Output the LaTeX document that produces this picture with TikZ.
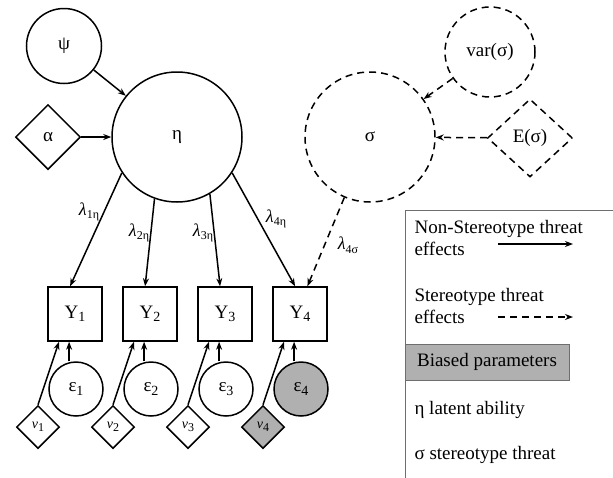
\documentclass[tikz,border=0pt]{standalone}
\usepackage{fontspec}
\setmainfont{Liberation Serif}
\usetikzlibrary{shapes.geometric,arrows.meta}
\definecolor{biais}{RGB}{176,176,176}
\definecolor{cadre}{RGB}{110,110,110}
\newcommand{\indice}[1]{\raisebox{-0.4ex}{\fontsize{14}{14}\selectfont #1}}
\newcommand{\petitind}[1]{\raisebox{-0.45ex}{\fontsize{12}{12}\selectfont #1}}

\begin{document}
\begin{tikzpicture}[x=1pt,y=-1pt,
    font=\fontsize{19}{22}\selectfont,
    trait/.style={line width=1.5pt},
    fleche/.style={trait,-{Stealth[length=8pt,width=6pt]}},
    tirets/.style={dash pattern=on 7pt off 5pt},
    rond/.style={trait,circle,draw,inner sep=0pt},
    losange/.style={trait,diamond,draw,inner sep=0pt},
    carre/.style={trait,rectangle,draw,minimum size=54pt,inner sep=0pt},
    lambda/.style={font=\fontsize{18}{18}\selectfont}]
    \useasboundingbox (0,0) rectangle (613,477);
    \clip (0,0) rectangle (613,477);

    % Variable latente et ses paramètres
    \node[rond,minimum size=130pt] (eta) at (177,137) {η};
    \node[rond,minimum size=75pt] (psi) at (64,46) {ψ};
    \node[losange,minimum size=65pt] (alpha) at (48,137) {α};
    \draw[fleche] (psi) -- (eta);
    \draw[fleche] (alpha) -- (eta);

    % Menace du stéréotype (en pointillés)
    \node[rond,tirets,minimum size=130pt] (sigma) at (370,137) {σ};
    \node[rond,tirets,minimum size=90pt] (varsig) at (490,52) {var(σ)};
    \node[losange,tirets,minimum width=85pt,minimum height=78pt] (esig) at (530,138) {E(σ)};
    \draw[fleche,tirets] (varsig) -- (sigma);
    \draw[fleche,tirets] (esig) -- (sigma);

    % Indicateurs Y, erreurs et intercepts
    \foreach \i/\x/\f in {1/75/white,2/150/white,3/225/white,4/300/biais}{
        \node[carre] (Y\i) at (\x,314) {Y\indice{\i}};
        \node[rond,fill=\f,minimum size=54pt] (e\i) at (\x+1,389) {ε\indice{\i}};
        \node[losange,fill=\f,minimum size=43pt] (nu\i) at (\x-37,427) {\fontsize{14}{14}\selectfont\textit{ν}\petitind{\i}};
        \draw[fleche] (e\i.north -| Y\i.-102) -- (Y\i.-102);
        \draw[fleche] (nu\i.north) -- (Y\i.-120);
    }

    % Saturations
    \draw[fleche] (eta.213) -- (Y1.100);
    \draw[fleche] (eta.250) -- (Y2.100);
    \draw[fleche] (eta.300) -- (Y3.100);
    \draw[fleche] (eta.327) -- (Y4.100);
    \draw[fleche,tirets] (sigma.247) -- (Y4.75);
    \node[lambda] (l1) at (89,212) {\textit{λ}\petitind{1η}};
    \node[lambda] (l2) at (139,233) {\textit{λ}\petitind{2η}};
    \node[lambda] (l3) at (203,233) {\textit{λ}\petitind{3η}};
    \node[lambda] (l4) at (276,219) {\textit{λ}\petitind{4η}};
    \node[lambda] (l5) at (348,245) {\textit{λ}\petitind{4σ}};

    % Légende
    \draw[cadre,line width=1pt] (405,210) rectangle (640,500);
    \node[anchor=west,align=left] (leg1) at (411,238) {Non-Stereotype threat\\effects};
    \coordinate (a1) at (498,244);
    \coordinate (b1) at (573,244);
    \draw[fleche,line width=1.3pt] (a1) -- (b1);
    \node[anchor=west,align=left] (leg2) at (411,306) {Stereotype threat\\effects};
    \coordinate (a2) at (498,317);
    \coordinate (b2) at (573,317);
    \draw[fleche,line width=1.3pt,tirets] (a2) -- (b2);
    \node[draw=cadre,fill=biais,line width=1pt,minimum width=164pt,minimum height=36pt,inner sep=0pt] (biais) at (487,362) {Biased parameters};
    \node[anchor=west] (leg3) at (411,410) {η latent ability};
    \node[anchor=west] (leg4) at (411,455) {σ stereotype threat};
\end{tikzpicture}
\end{document}
